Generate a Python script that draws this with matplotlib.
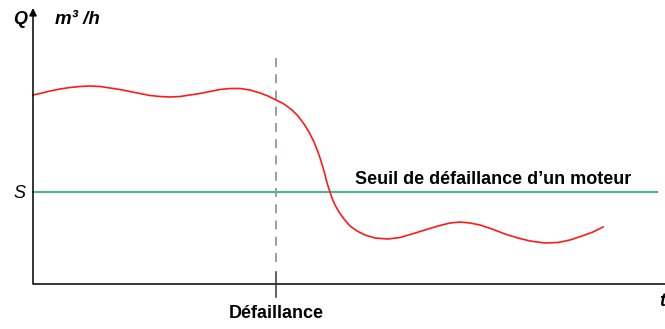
import matplotlib
matplotlib.use("Agg")
import matplotlib.pyplot as plt

plt.rcParams['font.family'] = ['Liberation Sans', 'DejaVu Sans']

# Flow rate Q over time t (arbitrary units, origin at the axes corner)
t_vals = [0, 7, 17, 27, 37, 47, 57, 67, 77, 87, 97, 107, 117, 127, 137, 147, 157,
          167, 177, 187, 197, 207, 217, 227, 235, 243, 251, 259, 265, 271, 276,
          281, 285, 288, 291, 293, 295, 297, 299, 302, 306, 311, 317, 324, 332,
          342, 355, 367, 379, 392, 405, 417, 427, 437, 447, 459, 472, 485, 497,
          512, 525, 537, 549, 560, 570]
q_vals = [189, 190.5, 193, 195, 196.5, 197.5, 198, 197.5, 196, 194.5, 192.5,
          190.5, 188.5, 187.5, 187, 187.5, 189, 190.5, 192.5, 194.5, 195.5,
          195.5, 194, 191, 188, 184, 180, 174, 168, 160, 152, 142, 132, 123,
          113, 105, 98, 92, 86, 79, 72, 65, 58, 53, 49, 46, 45, 46.5, 50, 54,
          58, 61, 62, 61, 59, 55, 50, 46, 43, 41, 41.5, 44, 48, 52, 57]

threshold = 92          # failure threshold S
failure_t = 243         # failure instant
t_max, q_max = 632, 276

fig = plt.figure(figsize=(6.65, 3.29), dpi=100)
ax = fig.add_axes([0, 0, 1, 1])
ax.set_xlim(-33, 632)
ax.set_ylim(-45, 284)
ax.axis('off')

# axes
ax.plot([0, t_max], [0, 0], color='black', lw=1.1, solid_capstyle='butt')
ax.annotate('', xy=(0, q_max), xytext=(0, 0),
            arrowprops=dict(arrowstyle='-|>', color='black', lw=1.1,
                            mutation_scale=11, shrinkA=0, shrinkB=0))

# threshold line
ax.plot([0, 624], [threshold, threshold], color='#52b788', lw=1.6)

# failure marker
ax.plot([failure_t, failure_t], [22, 229], color='#8899b3', lw=1.3,
        dashes=(5, 4))
ax.plot([failure_t, failure_t], [-13, 12], color='#333333', lw=1.1)

# flow curve
ax.plot(t_vals, q_vals, color='#ff1a1a', lw=1.2, solid_joinstyle='round')

# labels
ax.text(-13, 264, 'Q', fontsize=13, fontstyle='italic', fontweight='bold',
        ha='center', va='center')
ax.text(22, 264, 'm³ /h', fontsize=13.5, fontstyle='italic', fontweight='bold',
        ha='left', va='center')
ax.text(-14, 91, 'S', fontsize=13, fontstyle='italic',
        ha='center', va='center')
ax.text(629, -17, 't', fontsize=13, fontstyle='italic', fontweight='bold',
        ha='center', va='center')
ax.text(322, 104, 'Seuil de défaillance d’un moteur', fontsize=13,
        fontweight='bold', ha='left', va='center')
ax.text(failure_t, -30, 'Défaillance', fontsize=13, fontweight='bold',
        ha='center', va='center')

fig.savefig('out.png', dpi=100)
